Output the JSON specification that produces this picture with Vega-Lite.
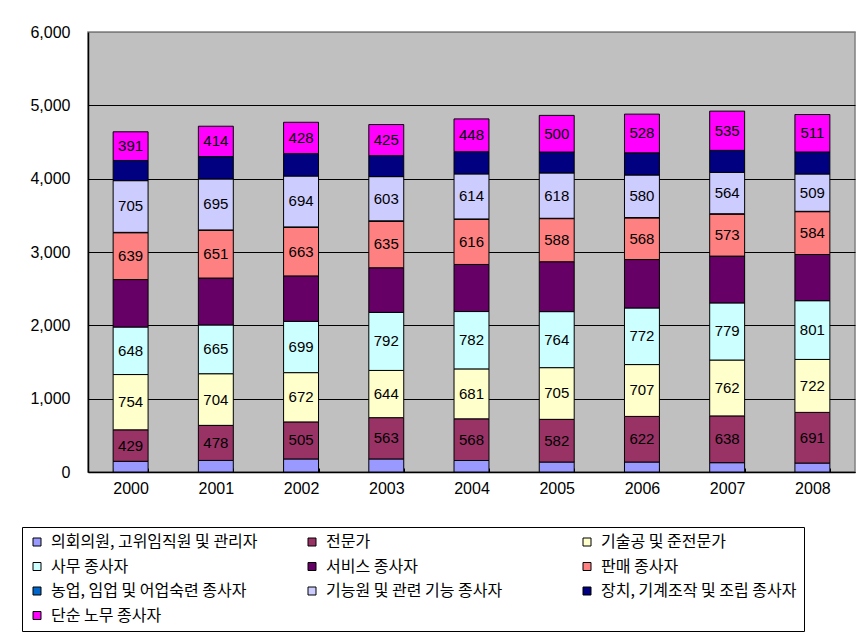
{
  "$schema": "https://vega.github.io/schema/vega-lite/v6.json",
  "width": 767,
  "height": 440,
  "autosize": {"type": "none"},
  "padding": {"left": 88, "top": 32, "right": 7, "bottom": 165},
  "background": "white",
  "config": {
    "view": {"fill": "#C0C0C0", "stroke": "#808080", "strokeWidth": 1.5},
    "font": "Noto Sans CJK KR",
    "axis": {"labelFont": "Liberation Sans", "labelFontSize": 16, "labelColor": "black"}
  },
  "data": {"values": [
    {"year": "2000", "code": 1, "job": "의회의원, 고위임직원 및 관리자", "value": 146},
    {"year": "2000", "code": 2, "job": "전문가", "value": 429},
    {"year": "2000", "code": 3, "job": "기술공 및 준전문가", "value": 754},
    {"year": "2000", "code": 4, "job": "사무 종사자", "value": 648},
    {"year": "2000", "code": 5, "job": "서비스 종사자", "value": 647},
    {"year": "2000", "code": 6, "job": "판매 종사자", "value": 639},
    {"year": "2000", "code": 7, "job": "농업, 임업 및 어업숙련 종사자", "value": 5},
    {"year": "2000", "code": 8, "job": "기능원 및 관련 기능 종사자", "value": 705},
    {"year": "2000", "code": 9, "job": "장치, 기계조작 및 조립 종사자", "value": 275},
    {"year": "2000", "code": 10, "job": "단순 노무 종사자", "value": 391},

    {"year": "2001", "code": 1, "job": "의회의원, 고위임직원 및 관리자", "value": 158},
    {"year": "2001", "code": 2, "job": "전문가", "value": 478},
    {"year": "2001", "code": 3, "job": "기술공 및 준전문가", "value": 704},
    {"year": "2001", "code": 4, "job": "사무 종사자", "value": 665},
    {"year": "2001", "code": 5, "job": "서비스 종사자", "value": 640},
    {"year": "2001", "code": 6, "job": "판매 종사자", "value": 651},
    {"year": "2001", "code": 7, "job": "농업, 임업 및 어업숙련 종사자", "value": 5},
    {"year": "2001", "code": 8, "job": "기능원 및 관련 기능 종사자", "value": 695},
    {"year": "2001", "code": 9, "job": "장치, 기계조작 및 조립 종사자", "value": 305},
    {"year": "2001", "code": 10, "job": "단순 노무 종사자", "value": 414},

    {"year": "2002", "code": 1, "job": "의회의원, 고위임직원 및 관리자", "value": 178},
    {"year": "2002", "code": 2, "job": "전문가", "value": 505},
    {"year": "2002", "code": 3, "job": "기술공 및 준전문가", "value": 672},
    {"year": "2002", "code": 4, "job": "사무 종사자", "value": 699},
    {"year": "2002", "code": 5, "job": "서비스 종사자", "value": 620},
    {"year": "2002", "code": 6, "job": "판매 종사자", "value": 663},
    {"year": "2002", "code": 7, "job": "농업, 임업 및 어업숙련 종사자", "value": 5},
    {"year": "2002", "code": 8, "job": "기능원 및 관련 기능 종사자", "value": 694},
    {"year": "2002", "code": 9, "job": "장치, 기계조작 및 조립 종사자", "value": 305},
    {"year": "2002", "code": 10, "job": "단순 노무 종사자", "value": 428},

    {"year": "2003", "code": 1, "job": "의회의원, 고위임직원 및 관리자", "value": 178},
    {"year": "2003", "code": 2, "job": "전문가", "value": 563},
    {"year": "2003", "code": 3, "job": "기술공 및 준전문가", "value": 644},
    {"year": "2003", "code": 4, "job": "사무 종사자", "value": 792},
    {"year": "2003", "code": 5, "job": "서비스 종사자", "value": 608},
    {"year": "2003", "code": 6, "job": "판매 종사자", "value": 635},
    {"year": "2003", "code": 7, "job": "농업, 임업 및 어업숙련 종사자", "value": 5},
    {"year": "2003", "code": 8, "job": "기능원 및 관련 기능 종사자", "value": 603},
    {"year": "2003", "code": 9, "job": "장치, 기계조작 및 조립 종사자", "value": 285},
    {"year": "2003", "code": 10, "job": "단순 노무 종사자", "value": 425},

    {"year": "2004", "code": 1, "job": "의회의원, 고위임직원 및 관리자", "value": 157},
    {"year": "2004", "code": 2, "job": "전문가", "value": 568},
    {"year": "2004", "code": 3, "job": "기술공 및 준전문가", "value": 681},
    {"year": "2004", "code": 4, "job": "사무 종사자", "value": 782},
    {"year": "2004", "code": 5, "job": "서비스 종사자", "value": 642},
    {"year": "2004", "code": 6, "job": "판매 종사자", "value": 616},
    {"year": "2004", "code": 7, "job": "농업, 임업 및 어업숙련 종사자", "value": 5},
    {"year": "2004", "code": 8, "job": "기능원 및 관련 기능 종사자", "value": 614},
    {"year": "2004", "code": 9, "job": "장치, 기계조작 및 조립 종사자", "value": 302},
    {"year": "2004", "code": 10, "job": "단순 노무 종사자", "value": 448},

    {"year": "2005", "code": 1, "job": "의회의원, 고위임직원 및 관리자", "value": 136},
    {"year": "2005", "code": 2, "job": "전문가", "value": 582},
    {"year": "2005", "code": 3, "job": "기술공 및 준전문가", "value": 705},
    {"year": "2005", "code": 4, "job": "사무 종사자", "value": 764},
    {"year": "2005", "code": 5, "job": "서비스 종사자", "value": 680},
    {"year": "2005", "code": 6, "job": "판매 종사자", "value": 588},
    {"year": "2005", "code": 7, "job": "농업, 임업 및 어업숙련 종사자", "value": 5},
    {"year": "2005", "code": 8, "job": "기능원 및 관련 기능 종사자", "value": 618},
    {"year": "2005", "code": 9, "job": "장치, 기계조작 및 조립 종사자", "value": 285},
    {"year": "2005", "code": 10, "job": "단순 노무 종사자", "value": 500},

    {"year": "2006", "code": 1, "job": "의회의원, 고위임직원 및 관리자", "value": 136},
    {"year": "2006", "code": 2, "job": "전문가", "value": 622},
    {"year": "2006", "code": 3, "job": "기술공 및 준전문가", "value": 707},
    {"year": "2006", "code": 4, "job": "사무 종사자", "value": 772},
    {"year": "2006", "code": 5, "job": "서비스 종사자", "value": 660},
    {"year": "2006", "code": 6, "job": "판매 종사자", "value": 568},
    {"year": "2006", "code": 7, "job": "농업, 임업 및 어업숙련 종사자", "value": 5},
    {"year": "2006", "code": 8, "job": "기능원 및 관련 기능 종사자", "value": 580},
    {"year": "2006", "code": 9, "job": "장치, 기계조작 및 조립 종사자", "value": 302},
    {"year": "2006", "code": 10, "job": "단순 노무 종사자", "value": 528},

    {"year": "2007", "code": 1, "job": "의회의원, 고위임직원 및 관리자", "value": 127},
    {"year": "2007", "code": 2, "job": "전문가", "value": 638},
    {"year": "2007", "code": 3, "job": "기술공 및 준전문가", "value": 762},
    {"year": "2007", "code": 4, "job": "사무 종사자", "value": 779},
    {"year": "2007", "code": 5, "job": "서비스 종사자", "value": 638},
    {"year": "2007", "code": 6, "job": "판매 종사자", "value": 573},
    {"year": "2007", "code": 7, "job": "농업, 임업 및 어업숙련 종사자", "value": 5},
    {"year": "2007", "code": 8, "job": "기능원 및 관련 기능 종사자", "value": 564},
    {"year": "2007", "code": 9, "job": "장치, 기계조작 및 조립 종사자", "value": 300},
    {"year": "2007", "code": 10, "job": "단순 노무 종사자", "value": 535},

    {"year": "2008", "code": 1, "job": "의회의원, 고위임직원 및 관리자", "value": 122},
    {"year": "2008", "code": 2, "job": "전문가", "value": 691},
    {"year": "2008", "code": 3, "job": "기술공 및 준전문가", "value": 722},
    {"year": "2008", "code": 4, "job": "사무 종사자", "value": 801},
    {"year": "2008", "code": 5, "job": "서비스 종사자", "value": 630},
    {"year": "2008", "code": 6, "job": "판매 종사자", "value": 584},
    {"year": "2008", "code": 7, "job": "농업, 임업 및 어업숙련 종사자", "value": 5},
    {"year": "2008", "code": 8, "job": "기능원 및 관련 기능 종사자", "value": 509},
    {"year": "2008", "code": 9, "job": "장치, 기계조작 및 조립 종사자", "value": 300},
    {"year": "2008", "code": 10, "job": "단순 노무 종사자", "value": 511}
  ]},
  "encoding": {
    "x": {
      "field": "year", "type": "nominal",
      "scale": {"paddingInner": 0.59, "paddingOuter": 0.295},
      "axis": {"title": null, "labelAngle": 0, "labelPadding": 12, "domainColor": "black", "domainWidth": 1.5, "ticks": true, "tickBand": "extent", "tickSize": -4, "tickColor": "black", "tickWidth": 1}
    },
    "y": {
      "field": "value", "type": "quantitative", "stack": "zero",
      "scale": {"domain": [0, 6000], "nice": false},
      "axis": {"title": null, "values": [0, 1000, 2000, 3000, 4000, 5000, 6000], "format": ",d",
        "gridColor": {"condition": {"test": "datum.value == 6000", "value": "#808080"}, "value": "black"},
        "gridWidth": 1.2, "gridOpacity": 1, "domainColor": "black", "domainWidth": 1.5, "ticks": false, "labelPadding": 18}
    },
    "order": {"field": "code", "type": "quantitative", "sort": "ascending"}
  },
  "layer": [
    {
      "mark": {"type": "bar", "stroke": "black", "strokeWidth": 1},
      "encoding": {
        "color": {
          "field": "job", "type": "nominal",
          "sort": ["의회의원, 고위임직원 및 관리자", "전문가", "기술공 및 준전문가", "사무 종사자", "서비스 종사자", "판매 종사자", "농업, 임업 및 어업숙련 종사자", "기능원 및 관련 기능 종사자", "장치, 기계조작 및 조립 종사자", "단순 노무 종사자"],
          "scale": {
            "domain": ["의회의원, 고위임직원 및 관리자", "전문가", "기술공 및 준전문가", "사무 종사자", "서비스 종사자", "판매 종사자", "농업, 임업 및 어업숙련 종사자", "기능원 및 관련 기능 종사자", "장치, 기계조작 및 조립 종사자", "단순 노무 종사자"],
            "range": ["#9999FF", "#993366", "#FFFFCC", "#CCFFFF", "#660066", "#FF8080", "#0066CC", "#CCCCFF", "#000080", "#FF00FF"]
          },
          "legend": {
            "title": null,
            "orient": "none",
            "legendX": -66,
            "legendY": 495,
            "columns": 3,
            "direction": "horizontal",
            "gridAlign": "all",
            "columnPadding": 46,
            "rowPadding": 8.5,
            "symbolType": "square",
            "symbolSize": 64,
            "symbolStrokeColor": "black",
            "symbolStrokeWidth": 1,
            "symbolOffset": 0,
            "labelFont": "Noto Sans CJK KR",
            "labelFontSize": 16,
            "labelColor": "black",
            "labelLimit": 500,
            "labelOffset": 6,
            "strokeColor": "black",
            "padding": 7,
            "fillColor": "white"
          }
        }
      }
    },
    {
      "mark": {"type": "text", "fontSize": 15, "font": "Liberation Sans", "color": "black", "baseline": "middle"},
      "encoding": {
        "y": {"field": "value", "type": "quantitative", "stack": "zero", "bandPosition": 0.5},
        "text": {
          "condition": {"test": "indexof([2,3,4,6,8,10], datum.code) >= 0", "field": "value", "type": "quantitative"},
          "value": ""
        }
      }
    }
  ]
}
